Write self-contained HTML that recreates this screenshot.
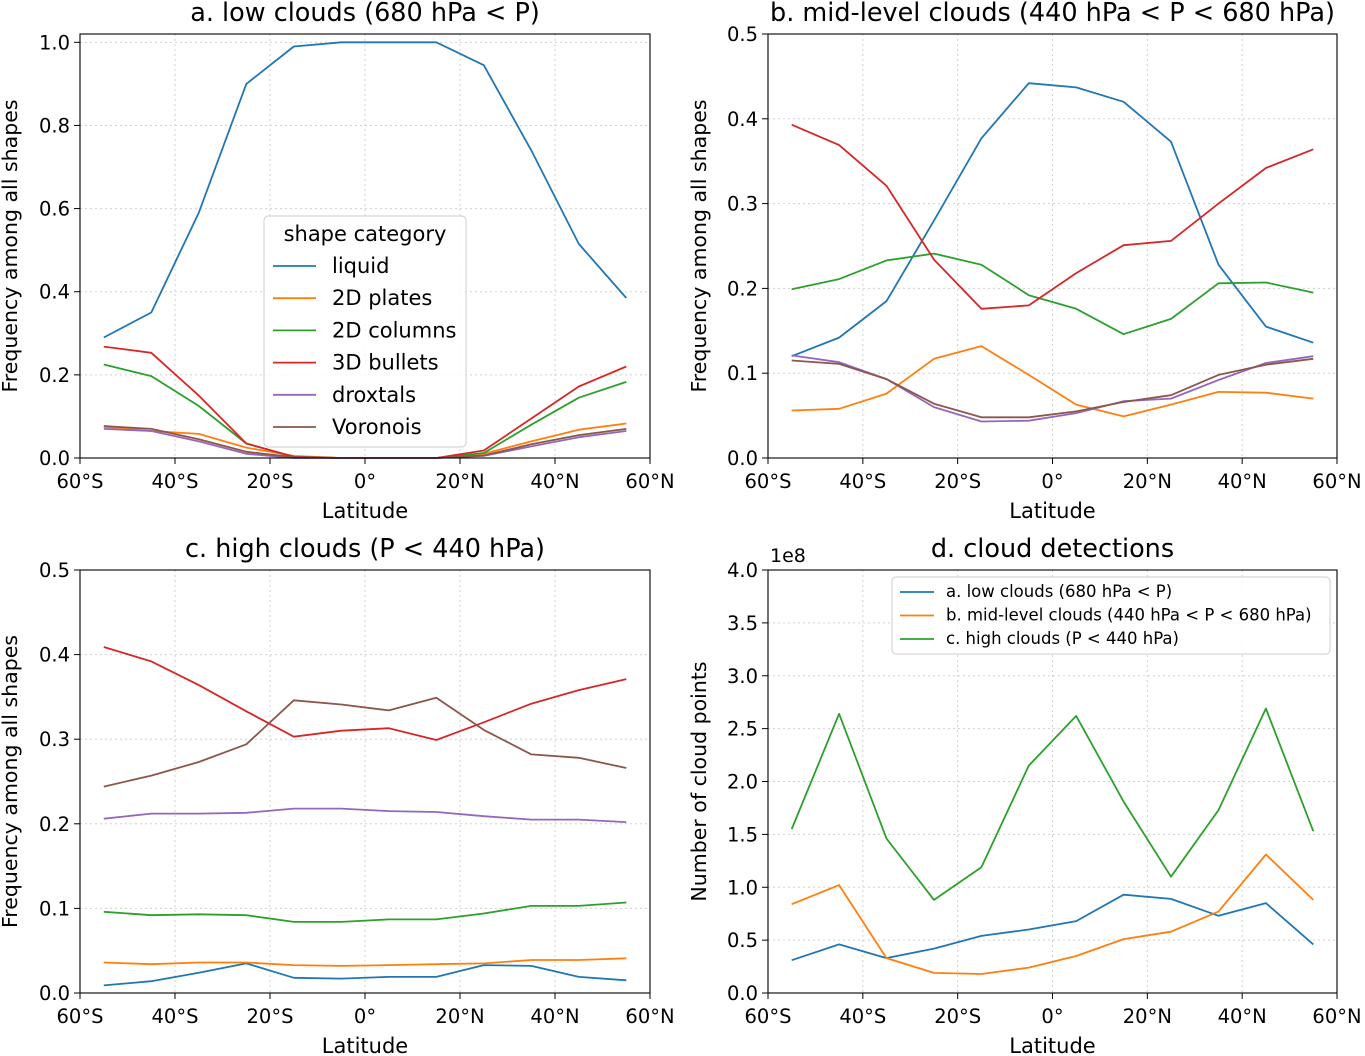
<!DOCTYPE html>
<html><head><meta charset="utf-8">
<style>
html,body{margin:0;padding:0;background:#fff;}
svg{display:block;font-family:"DejaVu Sans","Liberation Sans",sans-serif;}
</style></head>
<body>
<svg id="chart" width="1365" height="1056" viewBox="0 0 1365 1056" xmlns="http://www.w3.org/2000/svg"></svg>
<script>
const lats = [-55,-45,-35,-25,-15,-5,5,15,25,35,45,55];
const xTicks = [-60,-40,-20,0,20,40,60];
const xTickLabels = ["60°S","40°S","20°S","0°","20°N","40°N","60°N"];
const shapeNames = ["liquid","2D plates","2D columns","3D bullets","droxtals","Voronois"];
const colors = ["#1f77b4","#ff7f0e","#2ca02c","#d62728","#9467bd","#8c564b"];

const aLiquid = [0.29,0.35,0.59,0.90,0.99,1.0,1.0,1.0,0.945,0.74,0.515,0.385];
const aPlates = [0.075,0.065,0.058,0.025,0.005,0,0,0,0.01,0.04,0.068,0.083];
const aColumns = [0.225,0.197,0.125,0.035,0.003,0,0,0,0.012,0.08,0.145,0.183];
const aBullets = [0.268,0.253,0.15,0.035,0.003,0,0,0,0.018,0.095,0.172,0.22];
const aDroxtals = [0.07,0.065,0.04,0.01,0,0,0,0,0.005,0.028,0.05,0.065];
const aVoronois = [0.077,0.07,0.045,0.015,0.002,0,0,0,0.006,0.033,0.055,0.07];

const bLiquid = [0.12,0.142,0.185,0.28,0.377,0.442,0.437,0.42,0.373,0.228,0.155,0.136];
const bPlates = [0.056,0.058,0.076,0.117,0.132,0.098,0.063,0.049,0.063,0.078,0.077,0.07];
const bColumns = [0.199,0.211,0.233,0.241,0.228,0.192,0.176,0.146,0.164,0.206,0.207,0.195];
const bBullets = [0.393,0.369,0.321,0.234,0.176,0.18,0.218,0.251,0.256,0.3,0.342,0.364];
const bDroxtals = [0.121,0.113,0.093,0.06,0.043,0.044,0.053,0.067,0.07,0.092,0.112,0.12];
const bVoronois = [0.115,0.111,0.093,0.064,0.048,0.048,0.055,0.066,0.074,0.098,0.11,0.117];

const cLiquid = [0.009,0.014,0.024,0.035,0.018,0.017,0.019,0.019,0.033,0.032,0.019,0.015];
const cPlates = [0.036,0.034,0.036,0.036,0.033,0.032,0.033,0.034,0.035,0.039,0.039,0.041];
const cColumns = [0.096,0.092,0.093,0.092,0.084,0.084,0.087,0.087,0.094,0.103,0.103,0.107];
const cBullets = [0.409,0.392,0.364,0.333,0.303,0.31,0.313,0.299,0.32,0.342,0.358,0.371];
const cDroxtals = [0.206,0.212,0.212,0.213,0.218,0.218,0.215,0.214,0.209,0.205,0.205,0.202];
const cVoronois = [0.244,0.257,0.273,0.294,0.346,0.341,0.334,0.349,0.311,0.282,0.278,0.266];

const dLow = [0.31,0.46,0.33,0.42,0.54,0.6,0.68,0.93,0.89,0.73,0.85,0.46];
const dMid = [0.84,1.02,0.33,0.19,0.18,0.24,0.35,0.51,0.58,0.77,1.31,0.88];
const dHigh = [1.55,2.64,1.46,0.88,1.19,2.15,2.62,1.81,1.1,1.73,2.69,1.53];
const dNames = ["a. low clouds (680 hPa < P)","b. mid-level clouds (440 hPa < P < 680 hPa)","c. high clouds (P < 440 hPa)"];

const yTicksA = [0,0.2,0.4,0.6,0.8,1.0];
const yTicksB = [0,0.1,0.2,0.3,0.4,0.5];
const yTicksD = [0,0.5,1.0,1.5,2.0,2.5,3.0,3.5,4.0];

const svg = document.getElementById('chart');
const NS = "http://www.w3.org/2000/svg";
function el(tag, attrs, parent, text){
  const e = document.createElementNS(NS, tag);
  for (const k in attrs) e.setAttribute(k, attrs[k]);
  if (text !== undefined) e.textContent = text;
  (parent||svg).appendChild(e);
  return e;
}

function panel(cfg){
  const g = el('g', {});
  
  
  const {x0,x1,y0,y1,ymin,ymax} = cfg;
  const sx = v => x0 + (v+60)/120*(x1-x0);
  const sy = v => y1 - (v-ymin)/(ymax-ymin)*(y1-y0);
  xTicks.forEach((t,i)=>{
    const gl = el('line',{x1:sx(t),x2:sx(t),y1:y0,y2:y1,stroke:'#d0d0d0','stroke-dasharray':'2,3','stroke-width':1},g);
    
    
  });
  cfg.yTicks.forEach(t=>{
    const gl = el('line',{x1:x0,x2:x1,y1:sy(t),y2:sy(t),stroke:'#d0d0d0','stroke-dasharray':'2,3','stroke-width':1},g);
    
    
  });
  cfg.series.forEach((s,i)=>{
    const pts = lats.map((l,j)=>sx(l).toFixed(1)+','+sy(s[j]).toFixed(1)).join(' ');
    const pl = el('polyline',{points:pts,fill:'none',stroke:colors[i],'stroke-width':1.8,'stroke-linejoin':'round'},g);
    
    
  });
  const fr = el('rect',{x:x0,y:y0,width:x1-x0,height:y1-y0,fill:'none',stroke:'#000','stroke-width':1.1},g);
  
  
  xTicks.forEach((t,i)=>{
    el('line',{x1:sx(t),x2:sx(t),y1:y1,y2:y1+6,stroke:'#000'},g);
    const tl = el('text',{x:sx(t),y:y1+30,'text-anchor':'middle','font-size':19.5},g,xTickLabels[i]);
    
    
  });
  cfg.yTicks.forEach(t=>{
    el('line',{x1:x0-6,x2:x0,y1:sy(t),y2:sy(t),stroke:'#000'},g);
    const tl = el('text',{x:x0-10,y:sy(t)+7,'text-anchor':'end','font-size':19.5},g,t.toFixed(1));
    
    
  });
  const xl = el('text',{x:(x0+x1)/2,y:y1+60,'text-anchor':'middle','font-size':21},g,'Latitude');
  
  
  const yl = el('text',{x:0,y:0,'text-anchor':'middle','font-size':20.5,transform:`translate(${cfg.ylx},${(y0+y1)/2}) rotate(-90)`},g,cfg.ylabel);
  
  
  const tt = el('text',{x:(x0+x1)/2,y:y0-13,'text-anchor':'middle','font-size':25.5},g,cfg.title);
  
  
  return {g,sx,sy};
}

panel({name:'panel-a-low-clouds',x0:80,x1:650,y0:34,y1:458,ymin:0,ymax:1.02,yTicks:yTicksA,
  series:[aLiquid,aPlates,aColumns,aBullets,aDroxtals,aVoronois],seriesNames:shapeNames,
  title:'a. low clouds (680 hPa < P)',ylabel:'Frequency among all shapes',ylx:17});
panel({name:'panel-b-mid-clouds',x0:768,x1:1337,y0:34,y1:458,ymin:0,ymax:0.5,yTicks:yTicksB,
  series:[bLiquid,bPlates,bColumns,bBullets,bDroxtals,bVoronois],seriesNames:shapeNames,
  title:'b. mid-level clouds (440 hPa < P < 680 hPa)',ylabel:'Frequency among all shapes',ylx:706});
panel({name:'panel-c-high-clouds',x0:80,x1:650,y0:570,y1:993,ymin:0,ymax:0.5,yTicks:yTicksB,
  series:[cLiquid,cPlates,cColumns,cBullets,cDroxtals,cVoronois],seriesNames:shapeNames,
  title:'c. high clouds (P < 440 hPa)',ylabel:'Frequency among all shapes',ylx:17});
const pd = panel({name:'panel-d-cloud-detections',x0:768,x1:1337,y0:570,y1:993,ymin:0,ymax:4.0,yTicks:yTicksD,
  series:[dLow,dMid,dHigh],seriesNames:['low clouds','mid clouds','high clouds'],
  title:'d. cloud detections',ylabel:'Number of cloud points',ylx:706});
const off = el('text',{x:770,y:562,'font-size':19},pd.g,'1e8');



const la = el('g',{});


el('rect',{x:264,y:216,width:202,height:231,rx:4,fill:'#fff','fill-opacity':0.85,stroke:'#ccc'},la);
el('text',{x:365,y:241,'text-anchor':'middle','font-size':21},la,'shape category');
shapeNames.forEach((n,i)=>{
  const y = 266 + i*32.2;
  const e = el('g',{},la);
  
  
  el('line',{x1:273,x2:316,y1:y,y2:y,stroke:colors[i],'stroke-width':1.8},e);
  el('text',{x:332,y:y+7,'font-size':21},e,n);
});
const ld = el('g',{});


el('rect',{x:892,y:577,width:438,height:77,rx:4,fill:'#fff','fill-opacity':0.85,stroke:'#ccc'},ld);
dNames.forEach((n,i)=>{
  const y = 592 + i*23.5;
  const e = el('g',{},ld);
  
  
  el('line',{x1:900,x2:934,y1:y,y2:y,stroke:colors[i],'stroke-width':1.8},e);
  el('text',{x:946,y:y+5,'font-size':16.5},e,n);
});
</script>
</body></html>
